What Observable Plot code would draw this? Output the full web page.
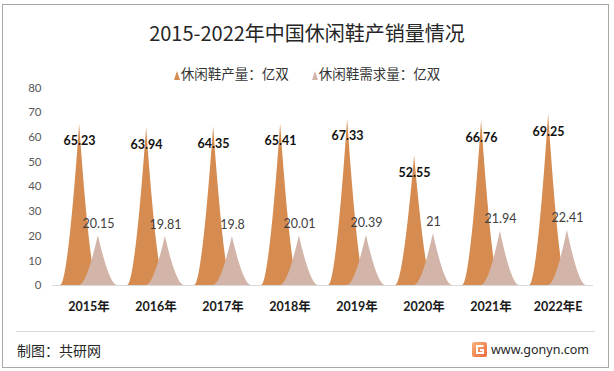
<!DOCTYPE html>
<html>
<head>
<meta charset="utf-8">
<script src="https://cdn.jsdelivr.net/npm/d3@7"></script>
<script src="https://cdn.jsdelivr.net/npm/@observablehq/plot@0.6"></script>
<style>
  html, body { margin: 0; padding: 0; background: #fff; }
  #wrap { position: relative; width: 614px; height: 371px; overflow: hidden; background: #fff; }
  #frame { position: absolute; left: 2px; top: 4px; width: 605px; height: 362px; border: 1px solid #a8a8a8; box-sizing: content-box; pointer-events: none; }
  #title { position: absolute; left: 0; width: 614px; top: 20px; text-align: center; font: 20px "Noto Sans CJK SC", sans-serif; color: #262626; line-height: 26px; }
  #legend { position: absolute; left: 0; width: 614px; top: 63px; text-align: center; font: 13.5px "Noto Sans CJK SC", sans-serif; color: #333; line-height: 20px; white-space: nowrap; }
  #legend span.item { display: inline-block; margin: 0 11.5px; }
  #legend svg { vertical-align: -1px; margin-right: 1px; }
  #chart { position: absolute; left: 0; top: 0; }
  #sep { position: absolute; left: 16px; top: 331px; width: 579px; height: 1px; background: #d9d9d9; }
  #src { position: absolute; left: 17px; top: 340px; font: 14px "Noto Sans CJK SC", sans-serif; color: #262626; line-height: 20px; }
  #site { position: absolute; left: 472px; top: 341px; font: 12.5px "Noto Sans", sans-serif; color: #262626; line-height: 18px; white-space: nowrap; }
  #site svg { vertical-align: -3px; margin-right: 4px; }
</style>
</head>
<body>
<div id="wrap">
  <div id="chart"></div>
  <div id="title"></div>
  <div id="legend"></div>
  <div id="sep"></div>
  <div id="src"></div>
  <div id="site"></div>
  <div id="frame"></div>
</div>
<script>
// ---- data ----
const years = ["2015年", "2016年", "2017年", "2018年", "2019年", "2020年", "2021年", "2022年E"];
const production = [65.23, 63.94, 64.35, 65.41, 67.33, 52.55, 66.76, 69.25];
const demand = [20.15, 19.81, 19.8, 20.01, 20.39, 21, 21.94, 22.41];
const yTicks = [0, 10, 20, 30, 40, 50, 60, 70, 80];
const seriesNames = ["休闲鞋产量：亿双", "休闲鞋需求量：亿双"];
const seriesColors = ["#D68C50", "#D2B4A8"];
const titleText = "2015-2022年中国休闲鞋产销量情况";
const sourceText = "制图：共研网";
const siteText = "www.gonyn.com";

// ---- tables ----
const prodData = years.map((year, i) => ({year, value: production[i]}));
const demData = years.map((year, i) => ({year, value: demand[i]}));

// ---- text blocks ----
document.getElementById("title").textContent = titleText;
document.getElementById("src").textContent = sourceText;
const legend = document.getElementById("legend");
seriesNames.forEach((name, i) => {
  const s = document.createElement("span");
  s.className = "item";
  s.innerHTML = `<svg width="6" height="9" viewBox="0 0 6 9"><polygon points="3,0 6,9 0,9" fill="${seriesColors[i]}"/></svg>`;
  s.appendChild(document.createTextNode(name));
  legend.appendChild(s);
});
document.getElementById("site").innerHTML =
  `<svg width="15" height="15" viewBox="0 0 15 15"><defs><linearGradient id="lg" x1="0" y1="0" x2="1" y2="1"><stop offset="0" stop-color="#f9b27a"/><stop offset="1" stop-color="#ee6a3a"/></linearGradient></defs><rect x="0" y="0" width="15" height="15" rx="2" fill="url(#lg)"/><path d="M11.5 4 H5 V11 H11 V8 H8" fill="none" stroke="#fff" stroke-width="2"/></svg>` + siteText;

// ---- spike mark ----
const OFFSET = 0.14;  // fraction of band from centre
const HALF = 0.285;   // half width fraction of band
const CTRL = 0.6;

function spikes(rows, color, side) {
  return Plot.barY(rows, {
    x: "year", y: "value", fill: color,
    render(index, scales, values, dimensions, context) {
      const xs = scales.x;
      const bw = typeof xs.bandwidth === "function" ? xs.bandwidth() : xs.bandwidth;
      const g = d3.create("svg:g");
      const y0 = scales.y(0);
      for (const i of index) {
        const d = rows[i];
        const cx = xs(d.year) + bw / 2 + side * OFFSET * bw;
        const hw = HALF * bw;
        const y1 = scales.y(d.value);
        const p = `M${cx - hw},${y0} Q${cx - CTRL * hw},${y0} ${cx},${y1} Q${cx + CTRL * hw},${y0} ${cx + hw},${y0} Z`;
        g.append("path").attr("d", p).attr("fill", color);
      }
      return g.node();
    }
  });
}

const chart = Plot.plot({
  width: 614,
  height: 371,
  marginLeft: 52,
  marginRight: 21,
  marginTop: 87.5,
  marginBottom: 86,
  style: {fontFamily: "Lato, 'Noto Sans CJK SC', sans-serif", background: "transparent", overflow: "visible"},
  x: {domain: years, padding: 0, label: null},
  y: {domain: [0, 80], label: null},
  marks: [
    Plot.axisY({ticks: yTicks, tickSize: 0, tickPadding: 11, fontSize: 11.5, color: "#595959", label: null}),
    Plot.axisX({tickSize: 0, tickPadding: 17, fontSize: 12.5, fontWeight: "bold", color: "#1a1a1a", label: null, fontFamily: "Lato, 'Noto Sans CJK SC', sans-serif"}),
    Plot.ruleY([0], {stroke: "#d9d9d9", strokeWidth: 1}),
    spikes(prodData, seriesColors[0], -1),
    spikes(demData, seriesColors[1], 1),
    Plot.text(prodData, {x: "year", y: "value", text: d => d.value, dx: -9.5, dy: 17, fontSize: 12.5, fontWeight: "bold", fill: "#111"}),
    Plot.text(demData, {x: "year", y: "value", text: d => d.value, dx: 9.5, dy: -12, fontSize: 12.5, fill: "#404040"})
  ]
});
document.getElementById("chart").appendChild(chart);
</script>
</body>
</html>
